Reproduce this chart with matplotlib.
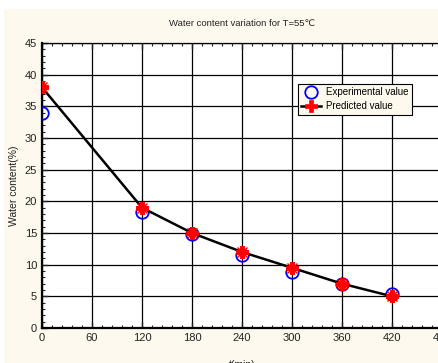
import numpy as np
import matplotlib.pyplot as plt
from matplotlib.patches import Rectangle
from matplotlib.ticker import MultipleLocator

plt.rcParams['font.family'] = ['Liberation Sans', 'DejaVu Sans']

# 干燥时间 (min) 与含水率 (%)
t_min = [0, 120, 180, 240, 300, 360, 420]
exp_water = [33.9, 18.3, 14.8, 11.5, 8.8, 7.0, 5.3]
pred_water = [38.0, 19.0, 15.0, 12.0, 9.5, 7.0, 5.0]

x_ticks = [0, 60, 120, 180, 240, 300, 360, 420, 480]
y_ticks = [0, 5, 10, 15, 20, 25, 30, 35, 40, 45]

cream = '#fdf9ee'
W, H = 439, 363
fig = plt.figure(figsize=(W / 100, H / 100), dpi=100, facecolor='white')
fig.patches.append(Rectangle((4 / W, 0), 1, 1 - 9 / H, transform=fig.transFigure,
                             facecolor=cream, edgecolor='none', zorder=-10))

ax = fig.add_axes([42 / W, 1 - 328 / H, 400 / W, 285 / H])
ax.set_facecolor('white')

ax.plot(t_min, pred_water, color='black', lw=1.8, marker='P', ms=8,
        mec='red', mfc='red', mew=0.5, label='Predicted value', zorder=4)
ax.plot(t_min, exp_water, ls='none', marker='o', ms=9, mfc='none', mec='blue',
        mew=1.3, label='Experimental value', zorder=3)
# 预测点画在圆圈上面，加斜线成星形
ax.plot(t_min, pred_water, ls='none', marker='P', ms=8, mfc='red', mec='red',
        mew=0.5, zorder=5)
ax.plot(t_min, pred_water, ls='none', marker='x', ms=7, mec='red', mew=1.0, zorder=5)

ax.set_xlim(0, 480)
ax.set_ylim(0, 45)
ax.set_xticks(x_ticks)
ax.set_yticks(y_ticks)
ax.xaxis.set_minor_locator(MultipleLocator(12))
ax.yaxis.set_minor_locator(MultipleLocator(1))
ax.tick_params(which='both', direction='in', top=True, right=False, labelsize=8,
               colors='#222222')
ax.tick_params(which='major', length=4, width=1)
ax.tick_params(which='minor', length=2.5, width=0.8)
ax.grid(True, which='major', color='black', lw=0.9)

for side in ['left', 'bottom']:
    ax.spines[side].set_linewidth(1.6)
ax.spines['top'].set_linewidth(0.9)
ax.spines['right'].set_visible(False)

ax.set_title('Water content variation for T=55℃', fontsize=6.8, pad=12, color='#222222')
ax.set_xlabel('t(min)', fontsize=7.5, labelpad=12, color='#222222')
ax.set_ylabel('Water content(%)', fontsize=7.5, labelpad=4, color='#222222')

h, l = ax.get_legend_handles_labels()
leg = ax.legend([h[1], h[0]], [l[1], l[0]], loc='upper left',
                bbox_to_anchor=((298 - 42) / 400, 1 - (84 - 43) / 285),
                fontsize=7, fancybox=False, framealpha=1, facecolor=cream,
                edgecolor='black', borderpad=0.35, handlelength=2.0,
                handletextpad=0.5, labelspacing=0.4, borderaxespad=0)
leg.get_frame().set_linewidth(0.8)

fig.savefig('out.png', dpi=100)
